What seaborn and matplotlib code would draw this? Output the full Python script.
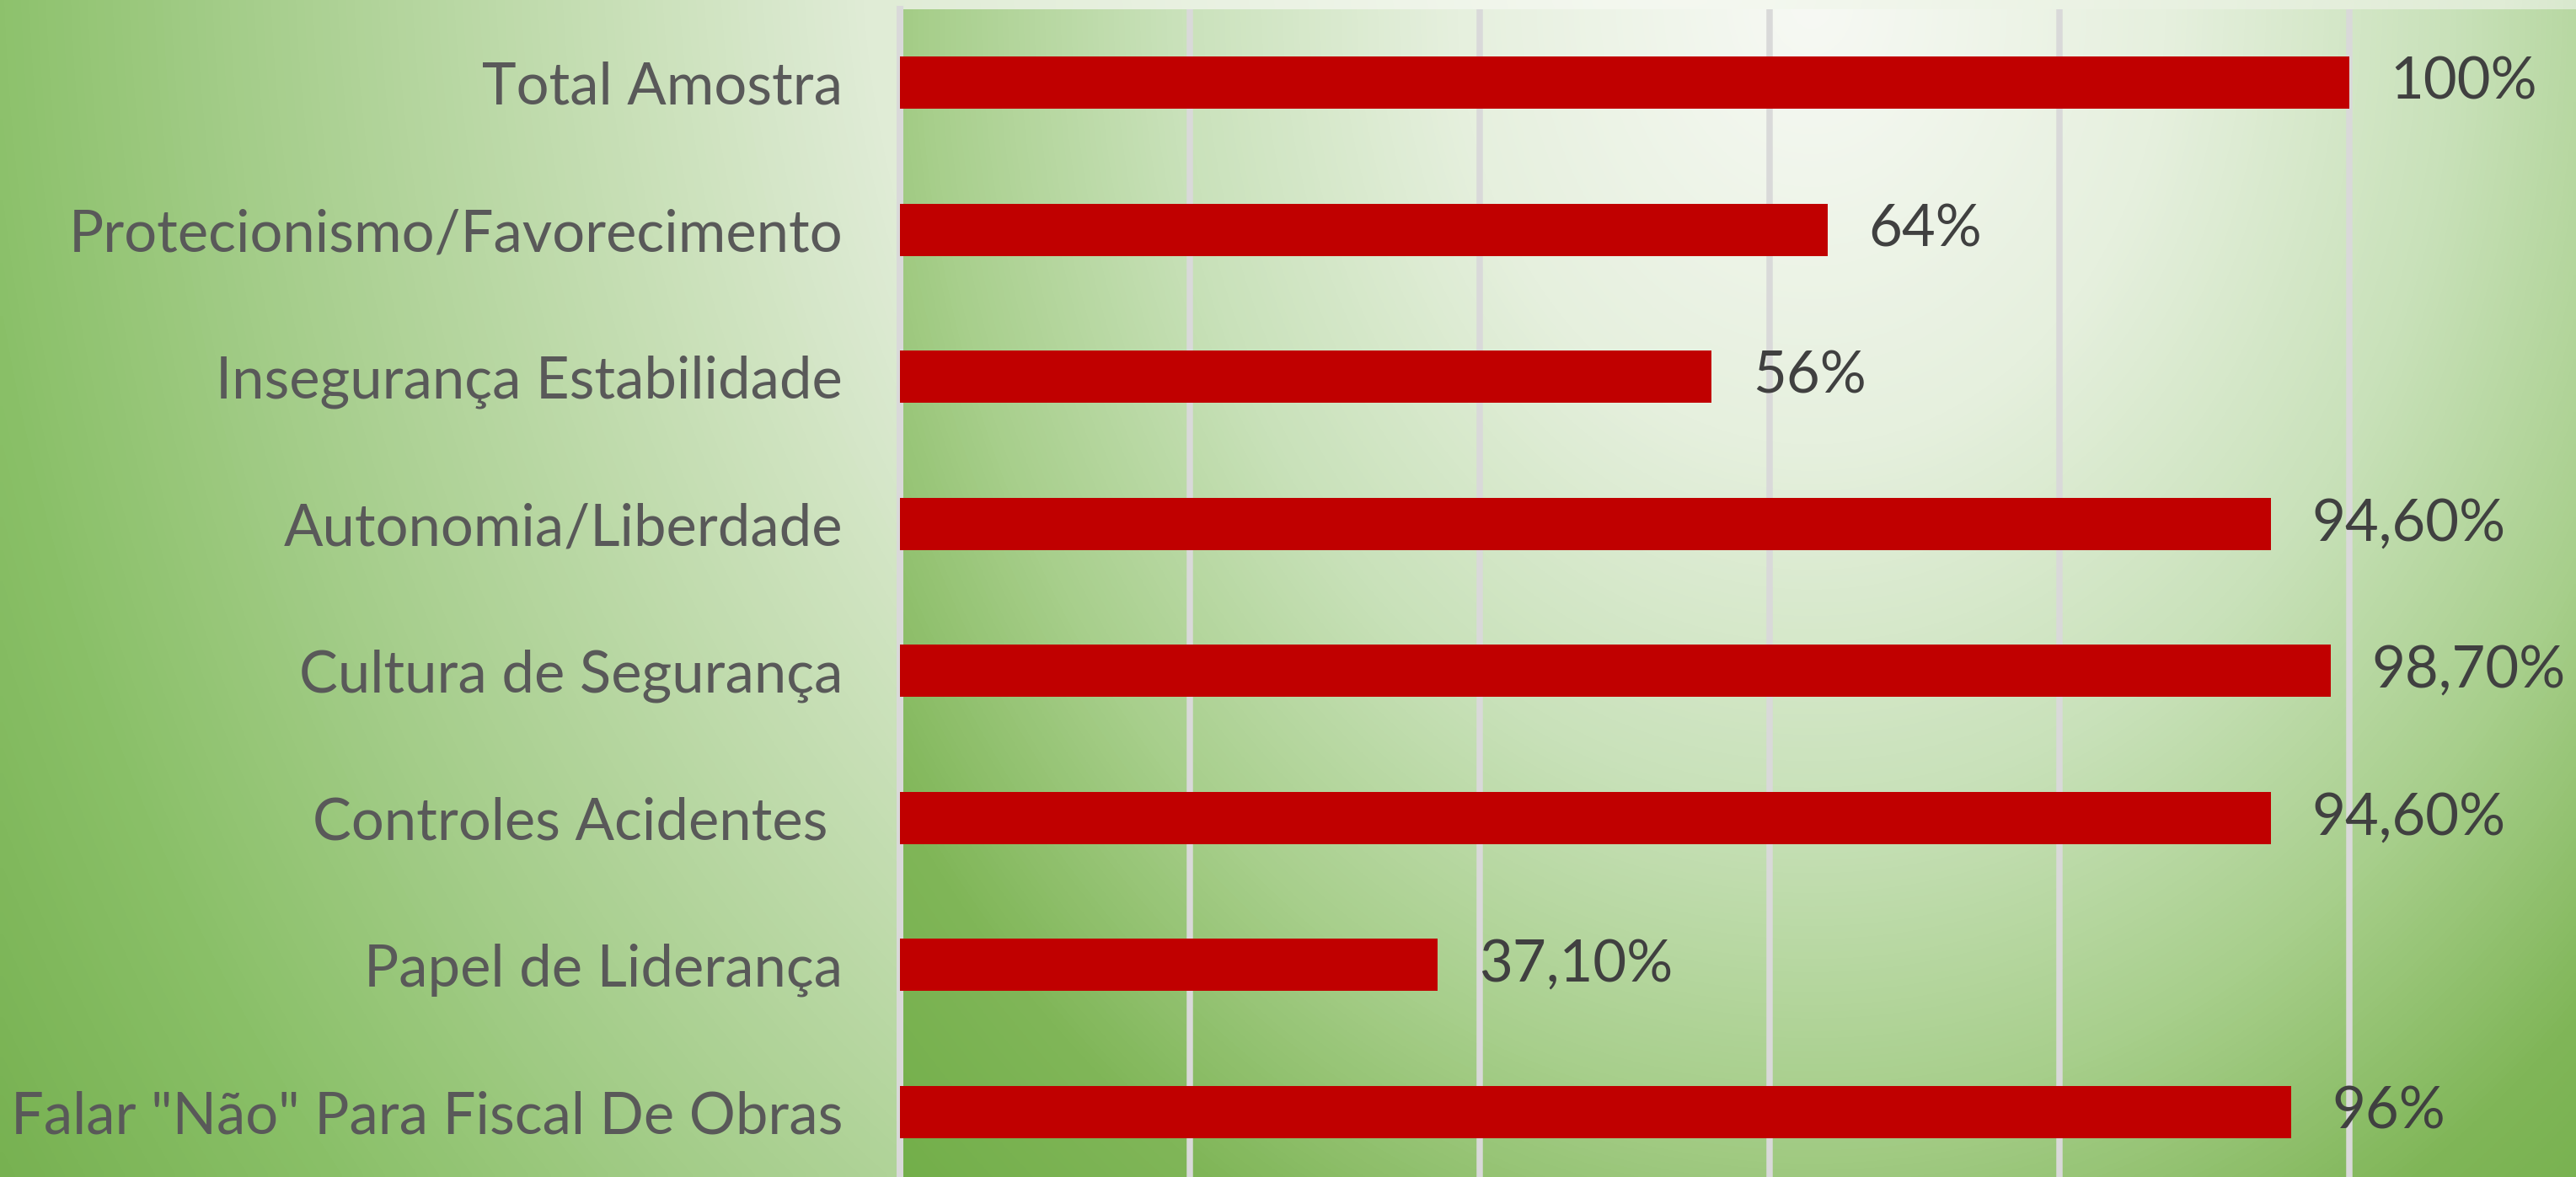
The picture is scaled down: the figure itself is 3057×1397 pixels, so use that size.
import numpy as np
import pandas as pd
import matplotlib
matplotlib.use("Agg")
import matplotlib.pyplot as plt
from matplotlib.colors import LinearSegmentedColormap
import seaborn as sns

categories = ["Total Amostra", "Protecionismo/Favorecimento", "Insegurança Estabilidade",
              "Autonomia/Liberdade", "Cultura de Segurança", "Controles Acidentes ",
              "Papel de Liderança", "Falar \"Não\" Para Fiscal De Obras"]
values = [1.00, 0.64, 0.56, 0.946, 0.987, 0.946, 0.371, 0.96]
value_labels = ["100%", "64%", "56%", "94,60%", "98,70%", "94,60%", "37,10%", "96%"]
grid_ticks = [0.2, 0.4, 0.6, 0.8, 1.0]

df = pd.DataFrame({"categoria": categories, "valor": values})

sns.set_style("white")
plt.rcParams["font.family"] = ["Lato", "DejaVu Sans"]

W, H = 3057, 1397
fig = plt.figure(figsize=(W / 100, H / 100), dpi=100)

def ramp(stops):
    pos = [p for p, _ in stops]
    mx = pos[-1]
    return LinearSegmentedColormap.from_list(
        "g", [(p / mx, tuple(c / 255 for c in col)) for p, col in stops]), mx

# chart-area radial gradient
chart_cmap, chart_max = ramp([(0.0, (246, 249, 242)), (0.5, (224, 236, 214)),
                              (0.85, (170, 208, 145)), (1.05, (138, 192, 104)),
                              (1.3, (110, 170, 70))])
gx, gy = np.meshgrid(np.linspace(0, W, 400), np.linspace(0, H, 200))
r = np.sqrt(((gx - 2000) / 1950) ** 2 + ((gy + 100) / 2300) ** 2)
bg = fig.add_axes([0, 0, 1, 1], zorder=-10)
bg.imshow(np.clip(r, 0, chart_max), cmap=chart_cmap, vmin=0, vmax=chart_max,
          extent=[0, 1, 0, 1], aspect="auto", interpolation="bilinear", origin="upper")
bg.set_axis_off()

# main axes
left_px, top_px = 1068, 11
bottom_px = 11 + 8 * 174.5
ax = fig.add_axes([left_px / W, (H - bottom_px) / H, (W - left_px) / W, (bottom_px - top_px) / H])
ax.patch.set_alpha(0)

plot_cmap, plot_max = ramp([(0.0, (247, 249, 244)), (0.3, (230, 240, 222)),
                            (0.55, (200, 225, 185)), (0.75, (168, 207, 140)),
                            (0.95, (128, 182, 88)), (1.15, (112, 173, 71))])
px, py = np.meshgrid(np.linspace(left_px, W, 400), np.linspace(top_px, bottom_px, 250))
rp = np.sqrt(((px - 2150) / 1400) ** 2 + ((py - 0) / 1750) ** 2)
ax.imshow(np.clip(rp, 0, plot_max), cmap=plot_cmap, vmin=0, vmax=plot_max,
          extent=[0, 1, 0, 1], transform=ax.transAxes, aspect="auto",
          interpolation="bilinear", origin="upper", zorder=-5)

sns.barplot(data=df, x="valor", y="categoria", orient="h", color="#C00000",
            saturation=1, width=0.355, linewidth=0, edgecolor="none", ax=ax, zorder=3)

ax.set_xlim(0, (W - left_px) / 1720)
ax.set_ylim(7.5, -0.5)
ax.set_xticks(grid_ticks)
ax.set_xticklabels([])
ax.grid(axis="x", color="#D9D9D9", linewidth=5.4, zorder=1)
ax.grid(axis="y", visible=False)
ax.set_axisbelow(True)
for s in ["top", "right", "bottom"]:
    ax.spines[s].set_visible(False)
ax.spines["left"].set_color("#D9D9D9")
ax.spines["left"].set_linewidth(5.8)
ax.spines["left"].set_zorder(2)
ax.set_xlabel("")
ax.set_ylabel("")
ax.tick_params(axis="both", length=0)
ax.tick_params(axis="y", pad=49, labelsize=49.5, labelcolor="#595959")

for i, (v, lab) in enumerate(zip(values, value_labels)):
    ax.annotate(lab, xy=(v, i), xytext=(35, 0), textcoords="offset points",
                ha="left", va="center", fontsize=49.5, color="#404040", zorder=5)

fig.savefig("out.png", dpi=100)
